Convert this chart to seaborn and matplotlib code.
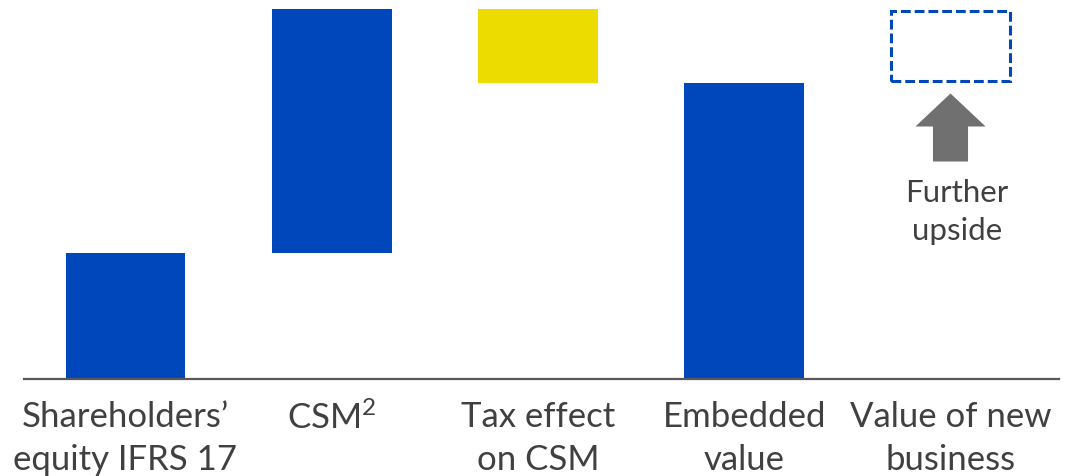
import matplotlib
matplotlib.use("Agg")
import matplotlib.pyplot as plt
from matplotlib.patches import Polygon
import numpy as np
import pandas as pd
import seaborn as sns

# Waterfall steps from IFRS 17 equity to embedded value
steps = ["Shareholders’\nequity IFRS 17", "CSM$^{2}$", "Tax effect\non CSM",
         "Embedded\nvalue", "Value of new\nbusiness"]
equity = 12.6
csm = 24.4
tax_on_csm = -7.4
embedded_value = 29.6
vnb_upside = 7.0          # illustrative size of the new-business upside
vnb_base = 29.8

heights = [equity, csm, tax_on_csm, embedded_value, vnb_upside]
bottoms = [0.0, equity, equity + csm, 0.0, vnb_base]

BLUE = "#0047BB"
YELLOW = "#EDDC00"
GREY_TEXT = "#404040"
ARROW_GREY = "#707070"
bar_colors = [BLUE, BLUE, YELLOW, BLUE, "none"]

df = pd.DataFrame({"step": steps, "height": heights, "bottom": bottoms})

sns.set_theme(style="white")
plt.rcParams["font.family"] = ["Lato", "DejaVu Sans"]
plt.rcParams["mathtext.fontset"] = "custom"
plt.rcParams["mathtext.rm"] = "Lato"
plt.rcParams["mathtext.it"] = "Lato"
plt.rcParams["mathtext.default"] = "regular"

W, H = 1074, 476
fig = plt.figure(figsize=(W / 100, H / 100), dpi=100)
ax = fig.add_axes([24 / W, (H - 378.5) / H, (1059 - 24) / W, 378.5 / H])

sns.barplot(data=df, x="step", y="height", order=steps, bottom=df["bottom"].to_numpy(),
            errorbar=None, width=0.58, color=BLUE, linewidth=0, ax=ax)

for patch, col in zip(ax.patches, bar_colors):
    if col == "none":
        patch.set_facecolor("none")
        patch.set_edgecolor(BLUE)
        patch.set_linewidth(2.2)
        patch.set_linestyle((0, (3.2, 1.3)))
    else:
        patch.set_facecolor(col)
        patch.set_edgecolor(col)

# Upward arrow under the new-business box
xc = 4
tip = vnb_base - 1.3
head_base = tip - 3.3
shaft_bottom = head_base - 3.5
hw, sw = 0.17, 0.085
arrow = Polygon([[xc, tip], [xc + hw, head_base], [xc + sw, head_base],
                 [xc + sw, shaft_bottom], [xc - sw, shaft_bottom],
                 [xc - sw, head_base], [xc - hw, head_base]],
                closed=True, facecolor=ARROW_GREY, edgecolor="none")
ax.add_patch(arrow)
ax.text(xc + 0.03, shaft_bottom - 1.7, "Further\nupside", ha="center", va="top",
        fontsize=22.5, color=GREY_TEXT, linespacing=1.45)

ax.set_xlim(-0.492, 4.526)
ax.set_ylim(0, 37.85)
ax.set_xlabel("")
ax.set_ylabel("")
ax.set_yticks([])
for side in ["top", "right", "left"]:
    ax.spines[side].set_visible(False)
ax.spines["bottom"].set_color("#595959")
ax.spines["bottom"].set_linewidth(1.6)
ax.tick_params(axis="x", length=0, pad=16, labelsize=25, labelcolor=GREY_TEXT)
for lbl in ax.get_xticklabels():
    lbl.set_linespacing(1.42)
ax.set_facecolor("white")
fig.patch.set_facecolor("white")

fig.savefig("out.png", dpi=100)
